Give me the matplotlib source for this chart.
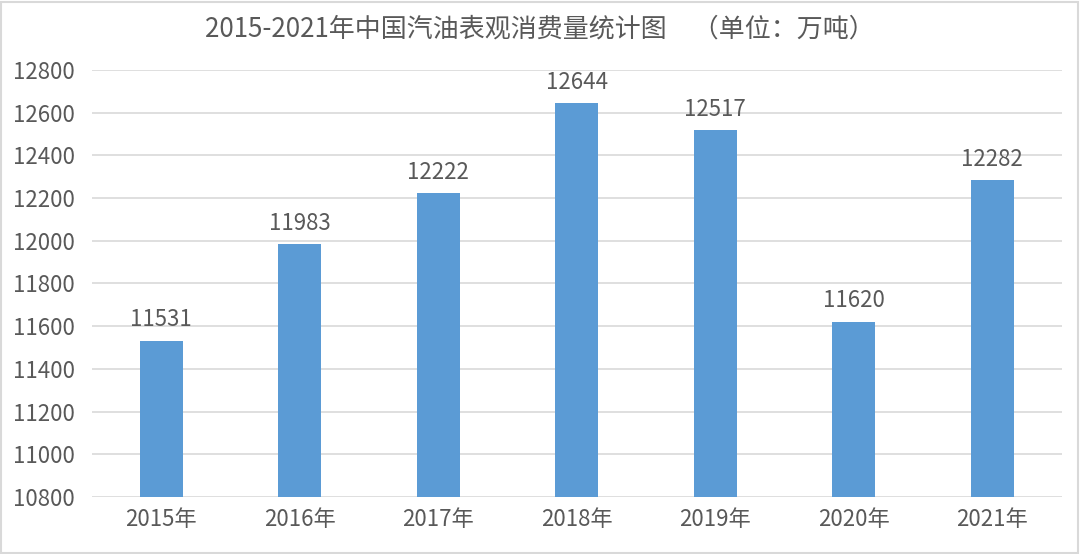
import matplotlib.pyplot as plt
from matplotlib.patches import Rectangle

plt.rcParams['font.family'] = ['Noto Sans CJK SC', 'DejaVu Sans']

years = ['2015年', '2016年', '2017年', '2018年', '2019年', '2020年', '2021年']
consumption = [11531, 11983, 12222, 12644, 12517, 11620, 12282]
y_ticks = [10800, 11000, 11200, 11400, 11600, 11800, 12000, 12200, 12400, 12600, 12800]

text_color = '#595959'
bar_color = '#5B9BD5'

fig = plt.figure(figsize=(10.8, 5.54), dpi=100)
ax = fig.add_axes([0.085, 0.103, 0.898, 0.771])

x = range(len(years))
bars = ax.bar(x, consumption, width=0.31, color=bar_color, zorder=3)

for xi, v in zip(x, consumption):
    ax.text(xi, v + 45, str(v), ha='center', va='bottom', fontsize=16, color=text_color)

ax.set_ylim(10800, 12800)
ax.set_xlim(-0.5, len(years) - 0.5)
ax.set_yticks(y_ticks)
ax.set_xticks(list(x))
ax.set_xticklabels(years)
ax.tick_params(axis='both', length=0, labelsize=16, colors=text_color)
ax.tick_params(axis='y', pad=12)
ax.tick_params(axis='x', pad=8)
ax.grid(axis='y', color='#D9D9D9', linewidth=1.2, zorder=0)
for s in ax.spines.values():
    s.set_visible(False)

fig.text(0.5, 0.948, '2015-2021年中国汽油表观消费量统计图　（单位：万吨）',
         ha='center', va='center', fontsize=18.7, color=text_color)

fig.patches.append(Rectangle((0.001, 0.002), 0.997, 0.995, transform=fig.transFigure,
                             fill=False, edgecolor='#D9D9D9', linewidth=1.5))

plt.savefig('out.png', dpi=100)
